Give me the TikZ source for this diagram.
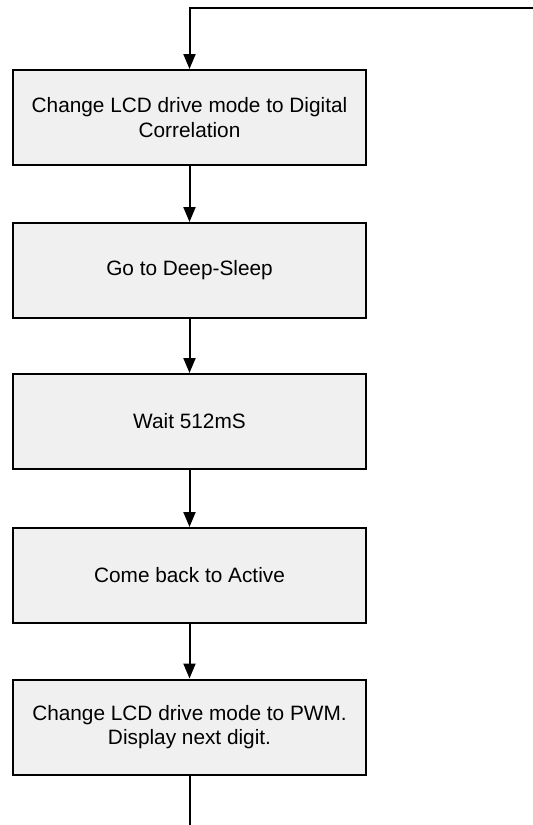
\documentclass[tikz,border=0pt]{standalone}
\usepackage{fontspec}
\setmainfont{Liberation Sans}
\usetikzlibrary{arrows.meta}
\begin{document}
\begin{tikzpicture}[x=1pt,y=-1pt,
  stepbox/.style={draw=black, line width=2pt, fill={rgb,255:red,240;green,240;blue,240},
    minimum width=353pt, minimum height=95pt, align=center, inner sep=0pt,
    font=\fontsize{20.8}{24.5}\selectfont},
  conn/.style={line width=2pt, -{Triangle[width=12pt,length=15pt]}},
  plain/.style={line width=2pt}]
\useasboundingbox (0,0) rectangle (533,825);
\node[stepbox] (b1) at (189.5,117.5) {Change LCD drive mode to Digital\\Correlation};
\node[stepbox] (b2) at (189.5,270.5) {Go to Deep-Sleep};
\node[stepbox] (b3) at (189.5,421.5) {Wait 512mS};
\node[stepbox] (b4) at (189.5,575.5) {Come back to Active};
\node[stepbox] (b5) at (189.5,727) {Change LCD drive mode to PWM.\\Display next digit.};
\coordinate (tr) at (534,7.5);
\coordinate (tc) at (189.5,7.5);
\coordinate (be) at (189.5,826);
\draw[conn] (tr) -- (tc) -- (b1.north);
\draw[conn] (b1) -- (b2);
\draw[conn] (b2) -- (b3);
\draw[conn] (b3) -- (b4);
\draw[conn] (b4) -- (b5);
\draw[plain] (b5) -- (be);
\end{tikzpicture}
\end{document}
